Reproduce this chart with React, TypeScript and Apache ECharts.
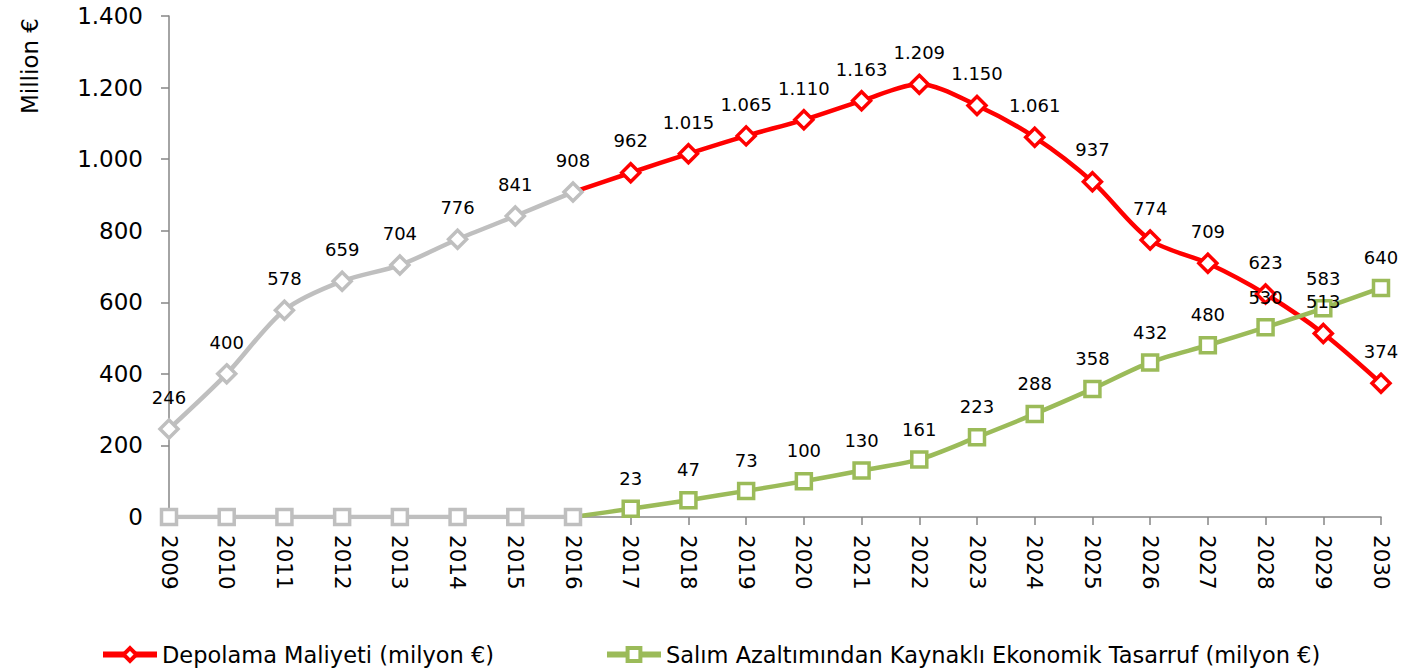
import React, { useEffect, useRef } from "react";
import * as echarts from "echarts";

const years = ["2009","2010","2011","2012","2013","2014","2015","2016","2017","2018","2019","2020","2021","2022","2023","2024","2025","2026","2027","2028","2029","2030"];
const depolamaHist: (number | null)[] = [246, 400, 578, 659, 704, 776, 841, 908, null, null, null, null, null, null, null, null, null, null, null, null, null, null];
const depolamaProj: (number | null)[] = [null, null, null, null, null, null, null, 908, 962, 1015, 1065, 1110, 1163, 1209, 1150, 1061, 937, 774, 709, 623, 513, 374];
const tasarrufHist: (number | null)[] = [0, 0, 0, 0, 0, 0, 0, 0, null, null, null, null, null, null, null, null, null, null, null, null, null, null];
const tasarrufProj: (number | null)[] = [null, null, null, null, null, null, null, 0, 23, 47, 73, 100, 130, 161, 223, 288, 358, 432, 480, 530, 583, 640];

const FONT = "DejaVu Sans";
const fmt = (v: number) => String(v).replace(/\B(?=(\d{3})+(?!\d))/g, ".");

export default function App() {
  const ref = useRef<HTMLDivElement>(null);
  useEffect(() => {
    const chart = echarts.init(ref.current!, null, { renderer: "svg" });
    const RED = "#FF0000";
    const GREEN = "#9BBB59";
    const GRAY = "#BFBFBF";
    const label = {
      show: true,
      position: "top" as const,
      distance: 12,
      color: "#000",
      fontFamily: FONT,
      fontSize: 18,
      formatter: (p: any) => fmt(p.value),
    };
    const projData = (arr: (number | null)[]) =>
      arr.map((v, i) => (i === 7 ? { value: v, symbol: "none", label: { show: false } } : v));
    chart.setOption({
      animation: false,
      textStyle: { fontFamily: FONT },
      grid: { left: 169, right: 25, top: 16, bottom: 151 },
      legend: {
        bottom: -3,
        left: 95,
        itemWidth: 54,
        itemHeight: 16,
        itemGap: 110,
        lineStyle: { width: 6 },
        itemStyle: { borderWidth: 4 },
        textStyle: { fontFamily: FONT, fontSize: 22.5, color: "#000" },
        data: ["Depolama Maliyeti (milyon €)", "Salım Azaltımından Kaynaklı Ekonomik Tasarruf (milyon €)"],
      },
      graphic: [
        {
          type: "text",
          x: 30,
          y: 66,
          rotation: Math.PI / 2,
          style: { text: "Million €", fontFamily: FONT, fontSize: 23, fill: "#000", align: "center", verticalAlign: "middle" },
        },
      ],
      xAxis: {
        type: "category",
        data: years,
        boundaryGap: false,
        axisLine: { lineStyle: { color: "#868686", width: 1.5 } },
        axisTick: { show: true, length: 8, lineStyle: { color: "#868686", width: 1.5 } },
        axisLabel: { rotate: -90, color: "#000", fontFamily: FONT, fontSize: 21.5, margin: 18 },
      },
      yAxis: {
        type: "value",
        min: 0,
        max: 1400,
        interval: 200,
        axisLine: { show: true, lineStyle: { color: "#868686", width: 1.5 } },
        axisTick: { show: true, length: 8, lineStyle: { color: "#868686", width: 1.5 } },
        splitLine: { show: false },
        axisLabel: { color: "#000", fontFamily: FONT, fontSize: 23, margin: 26, formatter: (v: number) => fmt(v) },
      },
      series: [
        {
          name: "Depolama Geçmiş",
          type: "line",
          data: depolamaHist,
          smooth: 0.3,
          symbol: "diamond",
          symbolSize: 18,
          lineStyle: { color: GRAY, width: 4.5 },
          itemStyle: { color: "#fff", borderColor: GRAY, borderWidth: 3.5 },
          label,
          z: 3,
        },
        {
          name: "Salım Geçmiş",
          type: "line",
          data: tasarrufHist,
          smooth: 0.3,
          symbol: "rect",
          symbolSize: 15,
          lineStyle: { color: GRAY, width: 4.5 },
          itemStyle: { color: "#fff", borderColor: GRAY, borderWidth: 3.5 },
          label: { show: false },
          z: 3,
        },
        {
          name: "Depolama Maliyeti (milyon €)",
          type: "line",
          data: projData(depolamaProj),
          smooth: 0.3,
          symbol: "diamond",
          symbolSize: 18,
          lineStyle: { color: RED, width: 4.5 },
          itemStyle: { color: "#fff", borderColor: RED, borderWidth: 3.5 },
          label,
          z: 2,
        },
        {
          name: "Salım Azaltımından Kaynaklı Ekonomik Tasarruf (milyon €)",
          type: "line",
          data: projData(tasarrufProj),
          smooth: 0.3,
          symbol: "rect",
          symbolSize: 15,
          lineStyle: { color: GREEN, width: 4.5 },
          itemStyle: { color: "#fff", borderColor: GREEN, borderWidth: 3.5 },
          label,
          z: 2,
        },
      ],
    });
    return () => chart.dispose();
  }, []);
  return <div ref={ref} style={{ width: 1406, height: 668, position: "absolute", left: 0, top: 0 }} />;
}
